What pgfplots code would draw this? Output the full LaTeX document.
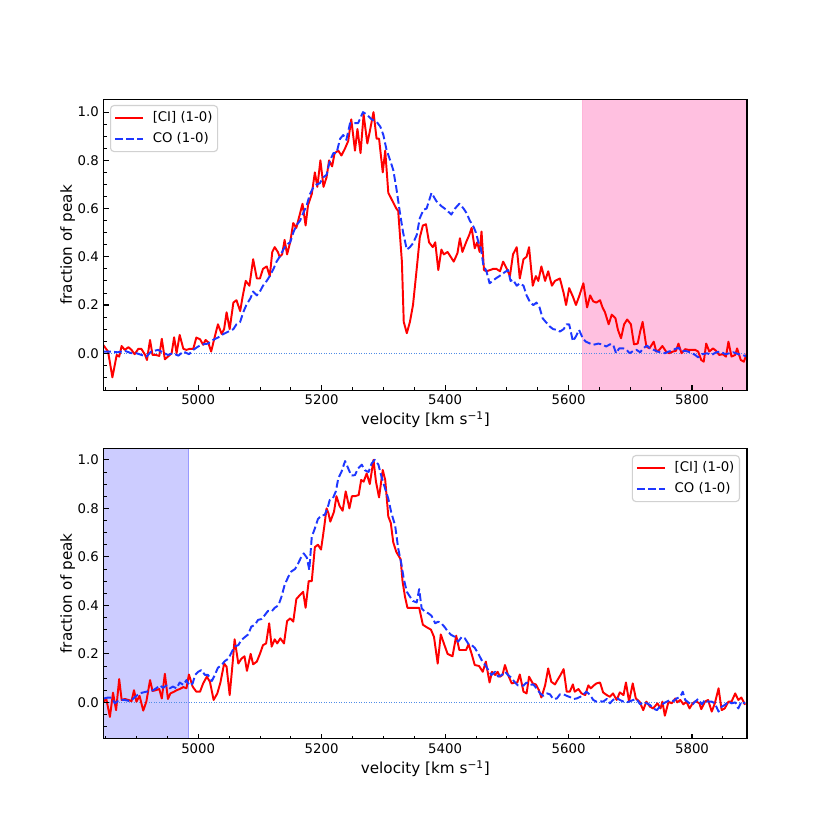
\documentclass[border=0pt]{standalone}
\usepackage{fontspec}
\setmainfont{DejaVu Sans}
\usepackage{pgfplots}
\usepackage{pgfplotstable}
\pgfplotsset{compat=1.18}
\definecolor{cired}{RGB}{255,0,0}
\definecolor{coblue}{RGB}{30,55,255}
\definecolor{zeroblue}{RGB}{80,140,230}
\definecolor{spanpink}{RGB}{255,105,180}
\definecolor{spanblue}{RGB}{0,0,255}

\pgfplotstableread{
x y
4846 0.035
4854 0.007
4861 -0.10
4868 -0.007
4872 -0.014
4876 0.03
4881 0.014
4887 0.025
4892 0.014
4897 -0.004
4903 0.018
4908 0.018
4914 -0.007
4917 -0.028
4922 0.055
4926 -0.007
4931 -0.007
4937 -0.011
4941 0.06
4946 -0.025
4951 -0.014
4957 0
4961 0.066
4965 0
4970 0.076
4976 0.018
4981 0.014
4986 0.018
4992 0.018
4997 0.065
5003 0.058
5008 0.035
5012 0.055
5016 0.046
5021 0.007
5027 0.07
5032 0.12
5038 0.08
5042 0.10
5046 0.17
5051 0.10
5057 0.21
5062 0.22
5068 0.175
5072 0.235
5077 0.30
5083 0.28
5089 0.39
5095 0.31
5100 0.31
5105 0.35
5111 0.36
5116 0.32
5120 0.42
5124 0.44
5129 0.42
5132 0.40
5136 0.41
5140 0.47
5144 0.41
5149 0.46
5154 0.54
5159 0.52
5165 0.58
5169 0.62
5174 0.53
5178 0.615
5184 0.66
5189 0.75
5193 0.69
5198 0.80
5203 0.69
5208 0.73
5212 0.80
5217 0.775
5221 0.83
5227 0.84
5232 0.82
5238 0.85
5243 0.88
5248 0.97
5254 0.84
5258 0.93
5263 0.83
5268 0.99
5274 0.87
5278 0.92
5284 1.0
5289 0.89
5293 0.89
5299 0.75
5303 0.84
5308 0.665
5315 0.63
5321 0.60
5324 0.59
5330 0.38
5333 0.13
5338 0.083
5343 0.13
5348 0.20
5354 0.35
5359 0.48
5364 0.53
5369 0.535
5374 0.46
5380 0.44
5384 0.46
5389 0.345
5394 0.43
5398 0.41
5404 0.42
5409 0.40
5414 0.38
5420 0.415
5424 0.477
5428 0.42
5434 0.46
5439 0.49
5443 0.52
5448 0.435
5452 0.46
5456 0.42
5459 0.505
5463 0.345
5467 0.34
5473 0.345
5478 0.35
5483 0.35
5489 0.34
5494 0.38
5500 0.35
5505 0.32
5510 0.41
5516 0.44
5521 0.31
5527 0.39
5532 0.40
5536 0.44
5542 0.28
5547 0.32
5551 0.30
5556 0.36
5562 0.30
5567 0.34
5573 0.28
5578 0.30
5586 0.31
5592 0.25
5596 0.20
5601 0.27
5607 0.235
5612 0.20
5617 0.235
5624 0.29
5630 0.19
5635 0.24
5640 0.215
5645 0.21
5651 0.22
5655 0.19
5659 0.17
5665 0.12
5670 0.16
5676 0.145
5680 0.097
5685 0.062
5690 0.12
5695 0.14
5701 0.12
5706 0.037
5712 0.04
5716 0.09
5720 0.13
5726 0.028
5731 0.02
5738 0.048
5742 0.007
5747 0.014
5752 0.03
5758 0.007
5763 0
5769 0.007
5774 0.01
5778 0.04
5783 0
5789 0.017
5794 0.014
5800 0.014
5805 0.014
5810 0.007
5815 -0.028
5819 -0.035
5823 0.04
5828 0.007
5834 0.02
5839 0.01
5844 -0.007
5850 -0.004
5855 -0.014
5859 0.048
5864 -0.014
5870 -0.007
5873 0.02
5879 -0.028
5884 -0.035
5889 0
}\topci

\pgfplotstableread{
x y
4846 0.007
4857 0.007
4870 0.004
4881 0.01
4892 0
4900 0
4908 -0.007
4916 -0.014
4924 0.007
4935 0.014
4943 0.003
4951 -0.007
4959 0
4968 -0.01
4976 0.007
4985 -0.004
4992 0.014
5000 0.028
5008 0.037
5016 0.04
5024 0.055
5032 0.065
5041 0.08
5049 0.09
5057 0.10
5062 0.12
5068 0.13
5073 0.17
5078 0.20
5085 0.23
5089 0.256
5095 0.24
5100 0.256
5105 0.28
5111 0.30
5116 0.32
5122 0.35
5127 0.38
5132 0.40
5138 0.43
5143 0.45
5149 0.46
5154 0.50
5159 0.53
5165 0.55
5170 0.58
5176 0.615
5181 0.66
5186 0.685
5192 0.70
5197 0.705
5203 0.73
5208 0.74
5213 0.795
5219 0.83
5224 0.83
5230 0.89
5235 0.905
5240 0.885
5246 0.954
5251 0.954
5259 0.954
5267 1.0
5273 0.99
5281 0.97
5289 0.96
5295 0.94
5300 0.905
5305 0.845
5311 0.80
5316 0.76
5321 0.685
5327 0.58
5332 0.50
5338 0.43
5343 0.44
5348 0.456
5354 0.49
5359 0.56
5365 0.595
5370 0.60
5378 0.665
5386 0.63
5394 0.61
5402 0.595
5410 0.575
5416 0.60
5423 0.62
5430 0.60
5435 0.58
5440 0.55
5446 0.525
5450 0.50
5454 0.46
5458 0.435
5462 0.365
5467 0.34
5472 0.29
5477 0.30
5482 0.31
5488 0.32
5493 0.33
5499 0.34
5502 0.345
5506 0.30
5510 0.305
5516 0.28
5521 0.29
5527 0.28
5532 0.24
5538 0.21
5543 0.20
5548 0.21
5553 0.19
5558 0.145
5563 0.13
5570 0.11
5575 0.10
5581 0.097
5586 0.09
5592 0.10
5597 0.12
5601 0.12
5607 0.05
5612 0.07
5617 0.097
5623 0.062
5628 0.048
5635 0.04
5640 0.035
5648 0.04
5654 0.037
5661 0.028
5667 0.037
5672 0.037
5677 0
5682 0.02
5689 0.02
5694 0.014
5699 0
5705 0.01
5710 0.014
5716 0.004
5721 0.02
5727 0.032
5732 0.02
5738 0.014
5744 0.007
5749 0.004
5756 0
5762 0.007
5767 0.01
5773 0.018
5778 0.023
5783 0.007
5789 0.01
5797 0.004
5805 -0.007
5810 -0.017
5816 -0.004
5824 0
5832 -0.007
5839 0.004
5846 0.007
5854 -0.004
5861 0
5867 0.004
5875 -0.004
5882 -0.007
5889 -0.014
}\topco

\pgfplotstableread{
x y
4847 0.003
4851 0.016
4857 -0.06
4862 0.04
4867 -0.032
4872 0.096
4876 0.01
4881 0.014
4887 0.01
4892 0.005
4896 0.05
4900 0.003
4905 0.027
4911 -0.034
4916 0.003
4922 0.092
4926 0.047
4931 0.05
4937 0.055
4941 0.016
4946 0.118
4951 0.014
4955 0.037
4961 0.044
4965 0.05
4970 0.055
4976 0.063
4981 0.058
4985 0.115
4991 0.065
4997 0.044
5003 0.044
5008 0.078
5014 0.106
5019 0.085
5025 0.01
5031 0.037
5036 0.082
5042 0.16
5046 0.147
5051 0.03
5056 0.168
5059 0.26
5065 0.16
5070 0.18
5075 0.19
5079 0.13
5085 0.20
5089 0.157
5095 0.168
5100 0.20
5105 0.236
5110 0.243
5115 0.326
5119 0.23
5124 0.26
5128 0.243
5133 0.264
5139 0.243
5144 0.335
5149 0.346
5154 0.333
5159 0.426
5165 0.443
5170 0.456
5174 0.39
5179 0.50
5184 0.50
5189 0.64
5194 0.65
5199 0.63
5204 0.72
5208 0.80
5211 0.78
5214 0.745
5220 0.786
5224 0.85
5229 0.81
5234 0.79
5239 0.87
5245 0.80
5249 0.85
5254 0.85
5260 0.855
5264 0.917
5268 0.91
5273 0.944
5278 0.90
5284 1.0
5288 0.91
5293 0.845
5299 0.958
5303 0.917
5308 0.766
5312 0.74
5316 0.66
5321 0.62
5328 0.59
5331 0.50
5335 0.436
5339 0.39
5344 0.39
5351 0.39
5358 0.39
5364 0.32
5370 0.31
5377 0.30
5382 0.27
5388 0.16
5393 0.28
5399 0.236
5404 0.20
5412 0.19
5418 0.275
5423 0.216
5428 0.216
5434 0.216
5438 0.24
5443 0.20
5448 0.154
5455 0.15
5461 0.126
5466 0.168
5472 0.082
5476 0.126
5481 0.113
5485 0.126
5489 0.106
5493 0.113
5497 0.154
5502 0.113
5508 0.078
5513 0.082
5517 0.082
5521 0.115
5527 0.044
5532 0.037
5536 0.106
5542 0.078
5547 0.074
5552 0.05
5556 0.02
5562 0.07
5567 0.14
5572 0.085
5578 0.074
5582 0.092
5587 0.113
5592 0.137
5597 0.044
5602 0.044
5607 0.074
5610 0.044
5616 0.055
5621 0.037
5627 0.03
5632 0.07
5636 0.058
5642 0.072
5645 0.078
5651 0.082
5656 0.041
5662 0.03
5667 0.023
5672 0.037
5678 0.01
5683 0.041
5689 0.03
5693 0.082
5698 0.003
5704 0.078
5709 0.016
5715 0.003
5721 -0.032
5726 0.003
5732 -0.018
5737 -0.025
5744 -0.004
5749 -0.025
5752 0.003
5756 -0.055
5762 0.003
5767 -0.004
5773 0.016
5776 0
5781 0.01
5786 -0.008
5791 0.003
5796 -0.025
5801 -0.004
5806 0.005
5812 -0.004
5815 -0.028
5821 0.003
5826 0.01
5832 -0.038
5837 -0.004
5843 0.058
5848 -0.032
5853 -0.025
5859 0.003
5864 0.003
5870 0.037
5875 0.01
5880 0.02
5886 -0.01
}\botci

\pgfplotstableread{
x y
4847 0.016
4854 0.02
4860 0.019
4865 -0.004
4870 0.005
4876 0.01
4881 0.01
4889 0.005
4895 0.016
4900 0.027
4905 0.037
4911 0.041
4916 0.044
4922 0.047
4927 0.05
4932 0.058
4938 0.07
4943 0.06
4949 0.07
4954 0.058
4959 0.065
4965 0.058
4970 0.082
4976 0.072
4981 0.092
4986 0.069
4991 0.078
4995 0.113
5000 0.126
5005 0.133
5011 0.113
5016 0.113
5022 0.088
5027 0.113
5032 0.143
5038 0.154
5043 0.17
5049 0.18
5054 0.206
5059 0.23
5065 0.236
5070 0.257
5076 0.27
5081 0.28
5086 0.312
5092 0.32
5097 0.34
5103 0.344
5108 0.36
5113 0.377
5119 0.375
5124 0.39
5130 0.40
5135 0.436
5140 0.484
5146 0.518
5151 0.54
5157 0.55
5162 0.573
5167 0.60
5171 0.614
5176 0.597
5180 0.546
5184 0.683
5189 0.717
5194 0.756
5200 0.772
5205 0.772
5211 0.814
5213 0.834
5218 0.84
5223 0.87
5227 0.924
5232 0.95
5238 0.995
5243 0.965
5248 0.935
5254 0.937
5259 0.965
5265 0.98
5270 0.957
5276 0.95
5281 0.985
5286 1.0
5292 0.98
5297 0.93
5303 0.88
5308 0.84
5313 0.78
5319 0.73
5324 0.635
5329 0.573
5333 0.51
5338 0.456
5343 0.436
5348 0.418
5354 0.412
5358 0.467
5362 0.388
5367 0.374
5373 0.367
5378 0.357
5384 0.326
5389 0.333
5394 0.326
5400 0.308
5405 0.29
5410 0.278
5416 0.27
5421 0.25
5427 0.27
5432 0.264
5438 0.24
5443 0.236
5448 0.225
5454 0.20
5459 0.175
5465 0.154
5470 0.133
5475 0.113
5481 0.126
5486 0.106
5492 0.113
5497 0.126
5502 0.113
5508 0.10
5513 0.082
5518 0.07
5527 0.069
5532 0.082
5537 0.072
5543 0.074
5548 0.058
5554 0.037
5559 0.027
5565 0.037
5570 0.033
5575 0.014
5581 0.016
5586 0.033
5592 0.033
5597 0.027
5602 0.022
5608 0.014
5613 0.016
5619 0.023
5624 0.033
5629 0.044
5635 0.03
5640 0.01
5645 0.003
5651 0.005
5656 0.003
5662 0.014
5667 -0.004
5672 0.01
5678 0.019
5683 0.01
5689 0.003
5694 0
5700 0.005
5705 0.01
5710 0.014
5716 -0.008
5721 0
5727 -0.004
5732 -0.011
5737 -0.025
5743 -0.032
5748 -0.018
5754 -0.004
5759 0.003
5765 0.01
5770 0.005
5775 0.016
5781 0.023
5785 0.044
5789 0.01
5794 0
5800 -0.011
5805 0.003
5810 0.014
5816 -0.008
5821 0.01
5826 0.003
5832 0.003
5837 -0.004
5843 -0.038
5848 -0.018
5853 -0.011
5859 0.003
5864 -0.004
5870 0
5875 -0.025
5880 0.003
5886 -0.004
}\botco

\pgfplotsset{
  myax/.style={
    scale only axis, width=463.1bp, height=209.2bp,
    xmin=4847, xmax=5889,
    xtick={5000,5200,5400,5600,5800},
    ytick={0,0.2,0.4,0.6,0.8,1.0},
    minor xtick={4850,4900,4950,5050,5100,5150,5250,5300,5350,5450,5500,5550,5650,5700,5750,5850},
    minor ytick={-0.1,-0.05,0.05,0.1,0.15,0.25,0.3,0.35,0.45,0.5,0.55,0.65,0.7,0.75,0.85,0.9,0.95},
    tick align=inside, xtick pos=left, ytick pos=left,
    major tick length=3.5bp, minor tick length=2bp,
    every major tick/.style={black, line width=0.8bp},
    every minor tick/.style={black, line width=0.6bp},
    axis line style={black, line width=0.8bp},
    axis on top=true,
    ticklabel style={font=\fontsize{9.6}{11}\selectfont, /pgf/number format/assume math mode=true},
    xticklabel style={/pgf/number format/set thousands separator={}},
    yticklabel style={/pgf/number format/.cd, fixed, fixed zerofill, precision=1},
    xlabel={velocity [km s\textsuperscript{−1}]},
    ylabel={fraction of peak},
    every axis x label/.style={at={(axis description cs:0.5,0)}, anchor=north, yshift=-15.3bp, inner sep=0pt, font=\fontsize{11}{13}\selectfont},
    every axis y label/.style={at={(axis description cs:0,0.5)}, rotate=90, anchor=north, yshift=31.5bp, inner sep=0pt, font=\fontsize{11}{13}\selectfont},
    legend cell align=left,
    legend image code/.code={\draw[#1] (0bp,0bp) -- (20bp,0bp);},
    legend style={draw=black!18, line width=0.8bp, rounded corners=2.5bp, fill=white, fill opacity=0.8, text opacity=1, draw opacity=1,
      font=\fontsize{9.6}{11}\selectfont, inner xsep=2.6bp, inner ysep=3.2bp, row sep=2.8bp, column sep=5.4bp,
      nodes={inner xsep=1bp, inner ysep=1bp, text height=0.75em, text depth=0.25em}},
  }
}

\begin{document}
\begin{tikzpicture}
\useasboundingbox (0,0) rectangle (597.6bp,597.6bp);

\begin{axis}[myax, at={(74.7bp,316.7bp)}, anchor=south west,
  ymin=-0.153, ymax=1.052,
  legend style={at={(0,1)}, anchor=north west, xshift=4.5bp, yshift=-3.9bp}]
\addplot[fill=spanpink, fill opacity=0.42, draw=spanpink, draw opacity=0.5, line width=0.8bp, forget plot]
  coordinates {(5623,-0.3) (5623,1.2) (5900,1.2) (5900,-0.3)} -- cycle;
\addplot[zeroblue, line width=0.6bp, dash pattern=on 0.7bp off 1.1bp, forget plot]
  coordinates {(4847,0) (5889,0)};
\addplot[cired, line width=1.4bp, line join=round] table[x=x, y=y] {\topci};
\addlegendentry{[CI] (1-0)}
\addplot[coblue, line width=1.4bp, dash pattern=on 5.55bp off 2.4bp, line join=round] table[x=x, y=y] {\topco};
\addlegendentry{CO (1-0)}
\end{axis}

\begin{axis}[myax, at={(74.7bp,65.7bp)}, anchor=south west,
  ymin=-0.150, ymax=1.048,
  legend style={at={(1,1)}, anchor=north east, xshift=-5bp, yshift=-4.9bp}]
\addplot[fill=spanblue, fill opacity=0.2, draw=spanblue, draw opacity=0.25, line width=0.8bp, forget plot]
  coordinates {(4830,-0.3) (4830,1.2) (4985,1.2) (4985,-0.3)} -- cycle;
\addplot[zeroblue, line width=0.6bp, dash pattern=on 0.7bp off 1.1bp, forget plot]
  coordinates {(4847,0) (5889,0)};
\addplot[cired, line width=1.4bp, line join=round] table[x=x, y=y] {\botci};
\addlegendentry{[CI] (1-0)}
\addplot[coblue, line width=1.4bp, dash pattern=on 5.55bp off 2.4bp, line join=round] table[x=x, y=y] {\botco};
\addlegendentry{CO (1-0)}
\end{axis}
\end{tikzpicture}
\end{document}
